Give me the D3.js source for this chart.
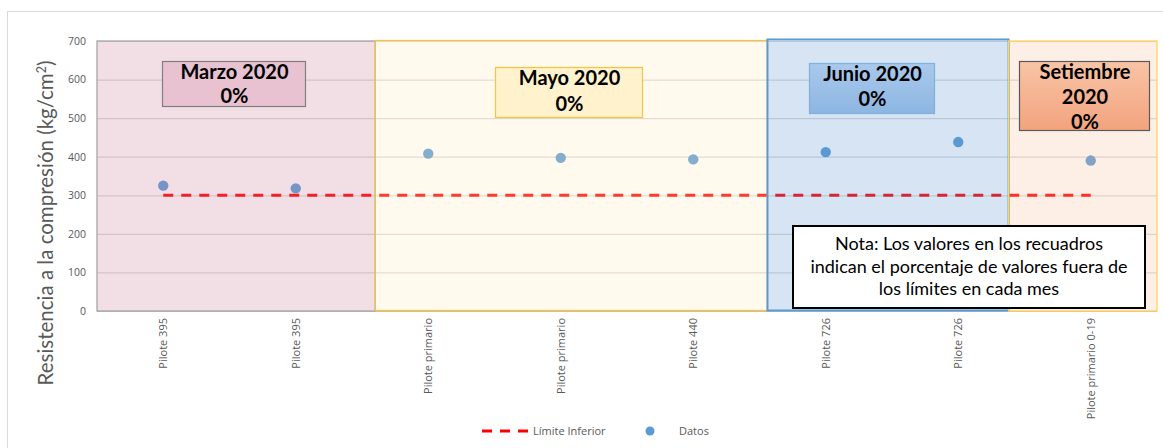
<!DOCTYPE html>
<html>
<head>
<meta charset="utf-8">
<script src="https://cdn.jsdelivr.net/npm/d3@7"></script>
<style>
  html, body { margin: 0; padding: 0; background: #ffffff; }
  svg { display: block; }
</style>
</head>
<body>
<svg id="chart" width="1163" height="448"></svg>
<script>
// Compressive strength per pile, grouped by sampling month
const categories = ["Pilote 395", "Pilote 395", "Pilote primario", "Pilote primario",
                    "Pilote 440", "Pilote 726", "Pilote 726", "Pilote primario 0-19"];
const datos = [325, 318, 408, 397, 393, 412, 438, 390];
const limiteInferior = [300, 300, 300, 300, 300, 300, 300, 300];
const yTicks = [0, 100, 200, 300, 400, 500, 600, 700];

// Month groups: name, share of values outside the limits
const months = ["Marzo 2020", "Mayo 2020", "Junio 2020", "Setiembre 2020"];
const outOfLimits = ["0%", "0%", "0%", "0%"];

const nota = ["Nota: Los valores en los recuadros",
              "indican el porcentaje de valores fuera de",
              "los límites en cada mes"];

// ---- layout & styling ----
const svg = d3.select("#chart");
const W = 1163, H = 448;
const plot = { left: 97, right: 1157, top: 41, bottom: 311 };

const x = d3.scalePoint()
  .domain(d3.range(categories.length))
  .range([plot.left, plot.right])
  .padding(0.5);
const step = x.step();
const y = d3.scaleLinear().domain([0, 700]).range([plot.bottom, plot.top]);

// Month band edges expressed in category units (band boundaries as drawn)
const bandEdges = [[-0.5, 1.6], [1.6, 4.56], [4.56, 6.38], [6.38, 7.5]];
const bandStyle = [
  { fill: "#cb7f9b", stroke: "#a6a6a6", sw: 1.3 },
  { fill: "#ffe7bb", stroke: "#f5c540", sw: 1.3 },
  { fill: "#5b93cf", stroke: "#5b9bd5", sw: 2 },
  { fill: "#f7bb9b", stroke: "#ffd35c", sw: 1.3 }
];
const boxStyle = [
  { x: 162, y: 61, w: 143, h: 45, fill: "#e8c2d0", stroke: "#7f7f7f", lines: 2, lh: 24 },
  { x: 495, y: 67, w: 147, h: 50, fill: "#fff2cc", stroke: "#f5c540", lines: 2, lh: 26 },
  { x: 809, y: 63, w: 125, h: 50, fill: "url(#gJunio)", stroke: "#7fb0e0", lines: 2, lh: 25 },
  { x: 1019, y: 61, w: 130, h: 69, fill: "url(#gSet)", stroke: "#595959", lines: 3, lh: 25 }
];
const ex = v => plot.left + (v + 0.5) * step;

// Gradients for the tinted month boxes
const defs = svg.append("defs");
const g1 = defs.append("linearGradient").attr("id", "gJunio").attr("x1", 0).attr("y1", 0).attr("x2", 0).attr("y2", 1);
g1.append("stop").attr("offset", 0).attr("stop-color", "#a9c9ec");
g1.append("stop").attr("offset", 1).attr("stop-color", "#8db6e2");
const g2 = defs.append("linearGradient").attr("id", "gSet").attr("x1", 0).attr("y1", 0).attr("x2", 0).attr("y2", 1);
g2.append("stop").attr("offset", 0).attr("stop-color", "#f8c4a6");
g2.append("stop").attr("offset", 1).attr("stop-color", "#f3a37e");

// Outer chart frame
svg.append("rect").attr("x", 7.5).attr("y", 11.5).attr("width", W - 7).attr("height", H - 11)
  .attr("fill", "#ffffff").attr("stroke", "#d9d9d9");

// Gridlines
svg.append("g").selectAll("line").data(yTicks).join("line")
  .attr("x1", plot.left).attr("x2", plot.right)
  .attr("y1", d => y(d) + 0.5).attr("y2", d => y(d) + 0.5)
  .attr("stroke", "#d9d9d9").attr("stroke-width", 1.2);

// Y axis tick labels
const yAxis = d3.axisLeft(y).tickValues(yTicks).tickSize(0).tickPadding(11);
svg.append("g").attr("transform", `translate(${plot.left},0)`).call(yAxis)
  .call(g => g.select(".domain").remove())
  .call(g => g.selectAll("text").attr("fill", "#595959")
    .style("font-family", "'Open Sans', sans-serif").style("font-size", "10.5px"));

// Lower limit (dashed)
const line = d3.line().x((d, i) => x(i)).y(d => y(d));
svg.append("path").datum(limiteInferior).attr("d", line)
  .attr("fill", "none").attr("stroke", "#ff0000").attr("stroke-width", 3)
  .attr("stroke-dasharray", "10,8");

// Data points
svg.append("g").selectAll("circle").data(datos).join("circle")
  .attr("cx", (d, i) => x(i)).attr("cy", d => y(d)).attr("r", 5.2)
  .attr("fill", "#5b9bd5");

// Month bands tinted over the plot
svg.append("g").selectAll("rect").data(months).join("rect")
  .attr("x", (d, i) => ex(bandEdges[i][0]))
  .attr("width", (d, i) => ex(bandEdges[i][1]) - ex(bandEdges[i][0]))
  .attr("y", plot.top).attr("height", plot.bottom - plot.top)
  .attr("fill", (d, i) => bandStyle[i].fill).attr("fill-opacity", 0.25)
  .attr("stroke", "none");

// Bottom axis line
svg.append("line").attr("x1", plot.left).attr("x2", plot.right)
  .attr("y1", plot.bottom + 0.5).attr("y2", plot.bottom + 0.5)
  .attr("stroke", "#bfbfbf").attr("stroke-width", 1);

// Band outlines
svg.append("g").selectAll("rect").data(months).join("rect")
  .attr("x", (d, i) => ex(bandEdges[i][0]))
  .attr("width", (d, i) => ex(bandEdges[i][1]) - ex(bandEdges[i][0]))
  .attr("y", (d, i) => plot.top - (i === 2 ? 1.5 : (i === 1 ? 0.5 : 0)))
  .attr("height", (d, i) => plot.bottom - plot.top + (i === 2 ? 1 : 0))
  .attr("fill", "none")
  .attr("stroke", (d, i) => bandStyle[i].stroke)
  .attr("stroke-width", (d, i) => bandStyle[i].sw);

// Month summary boxes
const boxes = svg.append("g").selectAll("g").data(months).join("g");
boxes.append("rect")
  .attr("x", (d, i) => boxStyle[i].x + 0.5).attr("y", (d, i) => boxStyle[i].y + 0.5)
  .attr("width", (d, i) => boxStyle[i].w).attr("height", (d, i) => boxStyle[i].h)
  .attr("fill", (d, i) => boxStyle[i].fill).attr("stroke", (d, i) => boxStyle[i].stroke)
  .attr("stroke-width", 1.2);
boxes.each(function (d, i) {
  const b = boxStyle[i];
  const parts = b.lines === 3 ? d.split(" ") : [d];
  const lines = parts.concat([outOfLimits[i]]);
  const t = d3.select(this).append("text")
    .attr("text-anchor", "middle")
    .attr("fill", "#000000")
    .style("font-family", "Lato, 'Open Sans', sans-serif")
    .style("font-weight", "bold").style("font-size", "20px");
  lines.forEach((s, k) => {
    t.append("tspan").attr("x", b.x + b.w / 2 + 1)
      .attr("y", b.y + 18 + k * b.lh).text(s);
  });
});

// Note box
svg.append("rect").attr("x", 793).attr("y", 226).attr("width", 352).attr("height", 82)
  .attr("fill", "#ffffff").attr("stroke", "#000000").attr("stroke-width", 2);
const nt = svg.append("text").attr("text-anchor", "middle").attr("fill", "#000000")
  .style("font-family", "Lato, 'Open Sans', sans-serif").style("font-size", "18px");
nota.forEach((s, k) => nt.append("tspan").attr("x", 969).attr("y", 250 + k * 22.5).text(s));

// X category labels (vertical)
svg.append("g").selectAll("text").data(categories).join("text")
  .attr("transform", (d, i) => `translate(${x(i) + 4},318) rotate(-90)`)
  .attr("text-anchor", "end")
  .attr("fill", "#595959")
  .style("font-family", "'Open Sans', sans-serif").style("font-size", "11px")
  .text(d => d);

// Y axis title
const yt = svg.append("text")
  .attr("transform", "translate(53,223) rotate(-90)")
  .attr("text-anchor", "middle").attr("fill", "#595959")
  .style("font-family", "Lato, 'Open Sans', sans-serif").style("font-size", "20.5px");
yt.append("tspan").text("Resistencia a la compresión (kg/cm");
yt.append("tspan").attr("baseline-shift", "super").style("font-size", "12.5px").text("2");
yt.append("tspan").text(")");

// Legend
const lg = svg.append("g").style("font-family", "'Open Sans', sans-serif")
  .style("font-size", "11px").attr("fill", "#595959");
lg.append("line").attr("x1", 482).attr("x2", 528).attr("y1", 431).attr("y2", 431)
  .attr("stroke", "#ff0000").attr("stroke-width", 3).attr("stroke-dasharray", "10,8");
lg.append("text").attr("x", 533).attr("y", 435).text("Límite Inferior");
lg.append("circle").attr("cx", 650).attr("cy", 431).attr("r", 4.5).attr("fill", "#5b9bd5");
lg.append("text").attr("x", 679).attr("y", 435).text("Datos");
</script>
</body>
</html>
